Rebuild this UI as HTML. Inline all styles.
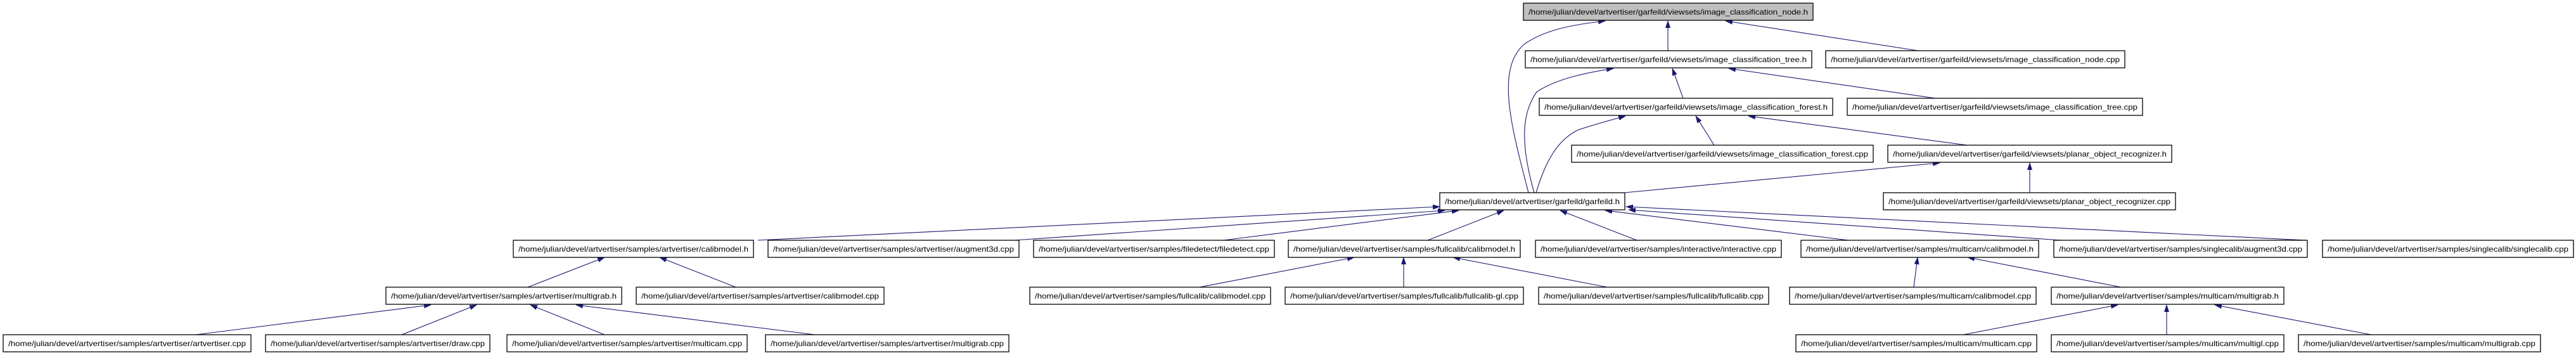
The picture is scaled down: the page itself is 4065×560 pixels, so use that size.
<!DOCTYPE html>
<html><head><meta charset="utf-8"><style>html,body{margin:0;padding:0;background:#fff}svg{display:block}</style></head>
<body>
<svg width="4065" height="560" viewBox="0 0 4065 560" xmlns="http://www.w3.org/2000/svg">
<defs>
<marker id="a" markerWidth="12" markerHeight="8" refX="11" refY="4" orient="auto" markerUnits="userSpaceOnUse">
<path d="M0,0 L12,4 L0,8 z" fill="#191970"/>
</marker>
</defs>
<g fill="none" stroke="#191970" stroke-width="1.1" marker-end="url(#a)">
<path d="M2632,80 L2632,33"/>
<path d="M3027,80 L2723,33"/>
<path d="M2656,155 L2639,108"/>
<path d="M3054,155 L2728,108"/>
<path d="M2705,229 L2676,183"/>
<path d="M3104,229 L2759,183"/>
<path d="M3203,304 L3203,257"/>
<path d="M2563,304 L3061,257"/>
<path d="M2412,304 C2385,200 2360,110 2405,70 C2440,45 2490,38 2533,33"/>
<path d="M2421,304 C2400,230 2400,180 2425,145 C2455,125 2500,115 2546,108"/>
<path d="M2424,304 C2440,250 2460,220 2490,205 C2520,195 2540,190 2565,183"/>
<path d="M1196,379 L2272,326"/>
<path d="M1601,379 L2280,332"/>
<path d="M1931,379 L2302,332"/>
<path d="M2253,379 L2373,332"/>
<path d="M2583,379 L2462,332"/>
<path d="M2917,379 L2533,332"/>
<path d="M3252,379 L2570,331"/>
<path d="M3639,379 L2566,326"/>
<path d="M833,453 L954,406"/>
<path d="M1161,453 L1041,406"/>
<path d="M1893,453 L2137,406"/>
<path d="M2215,453 L2215,406"/>
<path d="M2536,453 L2293,406"/>
<path d="M3020,453 L3026,406"/>
<path d="M3347,453 L3105,406"/>
<path d="M309,528 L680,481"/>
<path d="M634,528 L752,481"/>
<path d="M954,528 L837,481"/>
<path d="M1286,528 L909,481"/>
<path d="M3098,528 L3342,481"/>
<path d="M3419,528 L3419,481"/>
<path d="M3742,528 L3495,481"/>
</g>
<g font-family="Liberation Sans, sans-serif" font-size="12" text-anchor="middle" stroke-width="1.3">
<rect x="2404" y="5" width="457" height="27" fill="#bfbfbf" stroke="#000"/><text x="2632.5" y="23" textLength="441" lengthAdjust="spacingAndGlyphs">/home/julian/devel/artvertiser/garfeild/viewsets/image_classification_node.h</text>
<g fill="#fff" stroke="#000">
<rect x="2407" y="80" width="452" height="27"/><rect x="2881" y="80" width="472" height="27"/>
<rect x="2429" y="155" width="463" height="27"/><rect x="2915" y="155" width="466" height="27"/>
<rect x="2480" y="229" width="476" height="27"/><rect x="2979" y="229" width="448" height="27"/>
<rect x="2272" y="304" width="292" height="27"/><rect x="2972" y="304" width="461" height="27"/>
<rect x="810" y="379" width="379" height="27"/><rect x="1212" y="379" width="396" height="27"/><rect x="1631" y="379" width="380" height="27"/><rect x="2033" y="379" width="366" height="27"/><rect x="2423" y="379" width="388" height="27"/><rect x="2842" y="379" width="375" height="27"/><rect x="3241" y="379" width="400" height="27"/><rect x="3665" y="379" width="396" height="27"/>
<rect x="609" y="453" width="372" height="27"/><rect x="1004" y="453" width="391" height="27"/><rect x="1625" y="453" width="380" height="27"/><rect x="2028" y="453" width="376" height="27"/><rect x="2428" y="453" width="363" height="27"/><rect x="2824" y="453" width="389" height="27"/><rect x="3237" y="453" width="367" height="27"/>
<rect x="5" y="528" width="391" height="27"/><rect x="419" y="528" width="354" height="27"/><rect x="800" y="528" width="379" height="27"/><rect x="1208" y="528" width="384" height="27"/><rect x="2834" y="528" width="380" height="27"/><rect x="3237" y="528" width="367" height="27"/><rect x="3627" y="528" width="382" height="27"/>
</g>
<g fill="#000">
<text x="2633" y="98" textLength="436" lengthAdjust="spacingAndGlyphs">/home/julian/devel/artvertiser/garfeild/viewsets/image_classification_tree.h</text>
<text x="3117" y="98" textLength="456" lengthAdjust="spacingAndGlyphs">/home/julian/devel/artvertiser/garfeild/viewsets/image_classification_node.cpp</text>
<text x="2660.5" y="173" textLength="447" lengthAdjust="spacingAndGlyphs">/home/julian/devel/artvertiser/garfeild/viewsets/image_classification_forest.h</text>
<text x="3148" y="173" textLength="450" lengthAdjust="spacingAndGlyphs">/home/julian/devel/artvertiser/garfeild/viewsets/image_classification_tree.cpp</text>
<text x="2718" y="247" textLength="460" lengthAdjust="spacingAndGlyphs">/home/julian/devel/artvertiser/garfeild/viewsets/image_classification_forest.cpp</text>
<text x="3203" y="247" textLength="432" lengthAdjust="spacingAndGlyphs">/home/julian/devel/artvertiser/garfeild/viewsets/planar_object_recognizer.h</text>
<text x="2418" y="322" textLength="276" lengthAdjust="spacingAndGlyphs">/home/julian/devel/artvertiser/garfeild/garfeild.h</text>
<text x="3202.5" y="322" textLength="445" lengthAdjust="spacingAndGlyphs">/home/julian/devel/artvertiser/garfeild/viewsets/planar_object_recognizer.cpp</text>
<text x="999.5" y="397" textLength="363" lengthAdjust="spacingAndGlyphs">/home/julian/devel/artvertiser/samples/artvertiser/calibmodel.h</text>
<text x="1410" y="397" textLength="380" lengthAdjust="spacingAndGlyphs">/home/julian/devel/artvertiser/samples/artvertiser/augment3d.cpp</text>
<text x="1821" y="397" textLength="364" lengthAdjust="spacingAndGlyphs">/home/julian/devel/artvertiser/samples/filedetect/filedetect.cpp</text>
<text x="2216" y="397" textLength="350" lengthAdjust="spacingAndGlyphs">/home/julian/devel/artvertiser/samples/fullcalib/calibmodel.h</text>
<text x="2617" y="397" textLength="372" lengthAdjust="spacingAndGlyphs">/home/julian/devel/artvertiser/samples/interactive/interactive.cpp</text>
<text x="3029.5" y="397" textLength="359" lengthAdjust="spacingAndGlyphs">/home/julian/devel/artvertiser/samples/multicam/calibmodel.h</text>
<text x="3441" y="397" textLength="384" lengthAdjust="spacingAndGlyphs">/home/julian/devel/artvertiser/samples/singlecalib/augment3d.cpp</text>
<text x="3863" y="397" textLength="380" lengthAdjust="spacingAndGlyphs">/home/julian/devel/artvertiser/samples/singlecalib/singlecalib.cpp</text>
<text x="795" y="471" textLength="356" lengthAdjust="spacingAndGlyphs">/home/julian/devel/artvertiser/samples/artvertiser/multigrab.h</text>
<text x="1199.5" y="471" textLength="375" lengthAdjust="spacingAndGlyphs">/home/julian/devel/artvertiser/samples/artvertiser/calibmodel.cpp</text>
<text x="1815" y="471" textLength="364" lengthAdjust="spacingAndGlyphs">/home/julian/devel/artvertiser/samples/fullcalib/calibmodel.cpp</text>
<text x="2216" y="471" textLength="360" lengthAdjust="spacingAndGlyphs">/home/julian/devel/artvertiser/samples/fullcalib/fullcalib-gl.cpp</text>
<text x="2609.5" y="471" textLength="347" lengthAdjust="spacingAndGlyphs">/home/julian/devel/artvertiser/samples/fullcalib/fullcalib.cpp</text>
<text x="3018.5" y="471" textLength="373" lengthAdjust="spacingAndGlyphs">/home/julian/devel/artvertiser/samples/multicam/calibmodel.cpp</text>
<text x="3420.5" y="471" textLength="351" lengthAdjust="spacingAndGlyphs">/home/julian/devel/artvertiser/samples/multicam/multigrab.h</text>
<text x="200.5" y="546" textLength="375" lengthAdjust="spacingAndGlyphs">/home/julian/devel/artvertiser/samples/artvertiser/artvertiser.cpp</text>
<text x="596" y="546" textLength="338" lengthAdjust="spacingAndGlyphs">/home/julian/devel/artvertiser/samples/artvertiser/draw.cpp</text>
<text x="989.5" y="546" textLength="363" lengthAdjust="spacingAndGlyphs">/home/julian/devel/artvertiser/samples/artvertiser/multicam.cpp</text>
<text x="1400" y="546" textLength="368" lengthAdjust="spacingAndGlyphs">/home/julian/devel/artvertiser/samples/artvertiser/multigrab.cpp</text>
<text x="3024" y="546" textLength="364" lengthAdjust="spacingAndGlyphs">/home/julian/devel/artvertiser/samples/multicam/multicam.cpp</text>
<text x="3420.5" y="546" textLength="351" lengthAdjust="spacingAndGlyphs">/home/julian/devel/artvertiser/samples/multicam/multigl.cpp</text>
<text x="3818" y="546" textLength="366" lengthAdjust="spacingAndGlyphs">/home/julian/devel/artvertiser/samples/multicam/multigrab.cpp</text>
</g>
</g>
</svg>
</body></html>
